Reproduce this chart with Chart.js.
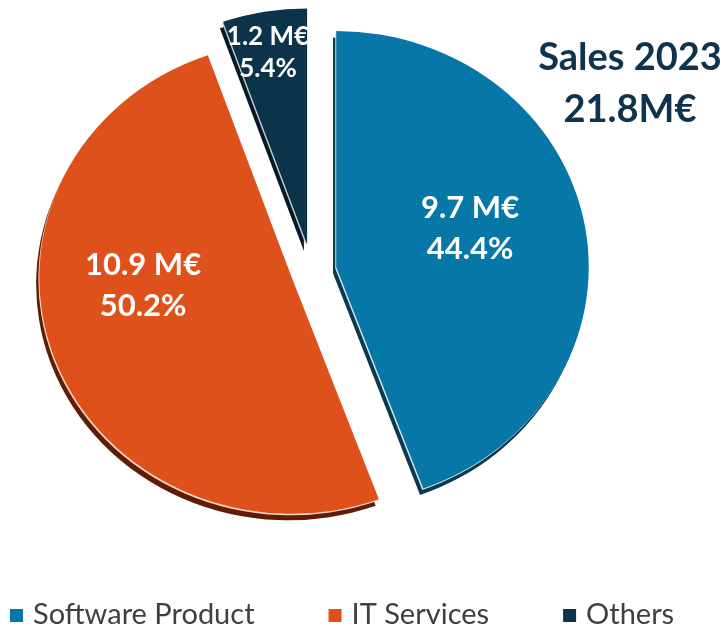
<!DOCTYPE html>
<html><head><meta charset="utf-8">
<script src="https://cdn.jsdelivr.net/npm/chart.js@4.4.0/dist/chart.umd.min.js"></script>
<style>html,body{margin:0;padding:0;background:#fff;} #wrap{width:726px;height:627px;position:relative;}</style>
</head><body><div id="wrap"><canvas id="c" width="726" height="627"></canvas></div>
<script>
// ---- data ----
const categories = ["Software Product", "IT Services", "Others"];
const shares = [44.4, 50.2, 5.4];
const valueLabels = ["9.7 M€", "10.9 M€", "1.2 M€"];
const percentLabels = ["44.4%", "50.2%", "5.4%"];
const titleLines = ["Sales 2023", "21.8M€"];

// ---- style ----
const colors = ["#0777a8", "#df511b", "#0b344b"];
const shadowColors = ["#0b3a4e", "#5e1d07", "#061a24"];
const highlightColors = ["#d4e6ef", "#f7d6c6", "#c3ccd2"];
const explode = [23, 20, 27];            // slice explosion, pixels
const labelFont = [31, 31, 26];
const labelLineGap = [41, 41, 32];
const labelAngleShift = [-7.5, 17, -1];   // degrees
const labelRadiusFrac = [0.556, 0.59, 0.833];
const STRETCH_X = 1.07;
const FONT = "Lato, 'Noto Sans', sans-serif";

function centerX(chart) { return (chart.chartArea.left + chart.chartArea.right) / 2; }

function drawArcWith(ctx, arc, i, color, dx, dy) {
  const o = arc.options;
  const tmp = Object.create(o);
  tmp.backgroundColor = color;
  arc.options = tmp;
  const mid = (arc.startAngle + arc.endAngle) / 2;
  ctx.save();
  ctx.translate(dx + Math.cos(mid) * explode[i], dy + Math.sin(mid) * explode[i]);
  arc.draw(ctx);
  ctx.restore();
  arc.options = o;
}

const piePlugin = {
  id: 'pieLook',
  beforeDatasetsDraw(chart) {
    const ctx = chart.ctx;
    const cx = centerX(chart);
    ctx.save();
    ctx.translate(cx, 0); ctx.scale(STRETCH_X, 1); ctx.translate(-cx, 0);
    const meta = chart.getDatasetMeta(0);
    meta.data.forEach((arc, i) => drawArcWith(ctx, arc, i, shadowColors[i], -3, 6.5));
    meta.data.forEach((arc, i) => drawArcWith(ctx, arc, i, highlightColors[i], -0.9, 1.5));
    meta.data.forEach((arc, i) => drawArcWith(ctx, arc, i, colors[i], 0, 0));
    ctx.restore();
    return false;
  },
  afterDraw(chart) {
    const ctx = chart.ctx;
    const cx = centerX(chart);
    const meta = chart.getDatasetMeta(0);
    // slice labels
    meta.data.forEach((arc, i) => {
      const p = arc.getProps(['x', 'y', 'startAngle', 'endAngle', 'outerRadius']);
      const mid = (p.startAngle + p.endAngle) / 2;
      const vx = p.x + Math.cos(mid) * explode[i];
      const vy = p.y + Math.sin(mid) * explode[i];
      const a = mid + labelAngleShift[i] * Math.PI / 180;
      const r = p.outerRadius * labelRadiusFrac[i];
      const ux = vx + Math.cos(a) * r;
      const uy = vy + Math.sin(a) * r;
      const sx = cx + (ux - cx) * STRETCH_X;
      ctx.save();
      ctx.fillStyle = '#ffffff';
      ctx.font = `bold ${labelFont[i]}px ${FONT}`;
      ctx.textAlign = 'center';
      ctx.textBaseline = 'alphabetic';
      const cap = labelFont[i] * 0.36;
      ctx.fillText(valueLabels[i], sx, uy - labelLineGap[i] / 2 + cap);
      ctx.fillText(percentLabels[i], sx, uy + labelLineGap[i] / 2 + cap);
      ctx.restore();
    });
    ctx.save();
    // title
    ctx.fillStyle = '#0d334d';
    ctx.font = `bold 38px ${FONT}`;
    ctx.textAlign = 'center';
    ctx.textBaseline = 'alphabetic';
    ctx.fillText(titleLines[0], 630, 70);
    ctx.fillText(titleLines[1], 630, 122);
    // legend
    ctx.font = `29px ${FONT}`;
    ctx.textAlign = 'left';
    let x = 10;
    chart.data.labels.forEach((lab, i) => {
      ctx.fillStyle = chart.data.datasets[0].backgroundColor[i];
      ctx.fillRect(x, 609, 13, 13);
      ctx.fillStyle = '#404040';
      ctx.fillText(lab, x + 23, 624);
      x += 23 + ctx.measureText(lab).width + 74;
    });
    ctx.restore();
  }
};

new Chart(document.getElementById('c'), {
  type: 'pie',
  data: {
    labels: categories,
    datasets: [{
      data: shares,
      backgroundColor: colors,
      borderWidth: 0,
      offset: 0,
      clip: false
    }]
  },
  options: {
    responsive: false,
    animation: false,
    radius: 236,
    layout: { padding: { left: 0, top: 0, right: 102, bottom: 85 } },
    plugins: { legend: { display: false }, tooltip: { enabled: false } }
  },
  plugins: [piePlugin]
});
</script>
</body></html>
